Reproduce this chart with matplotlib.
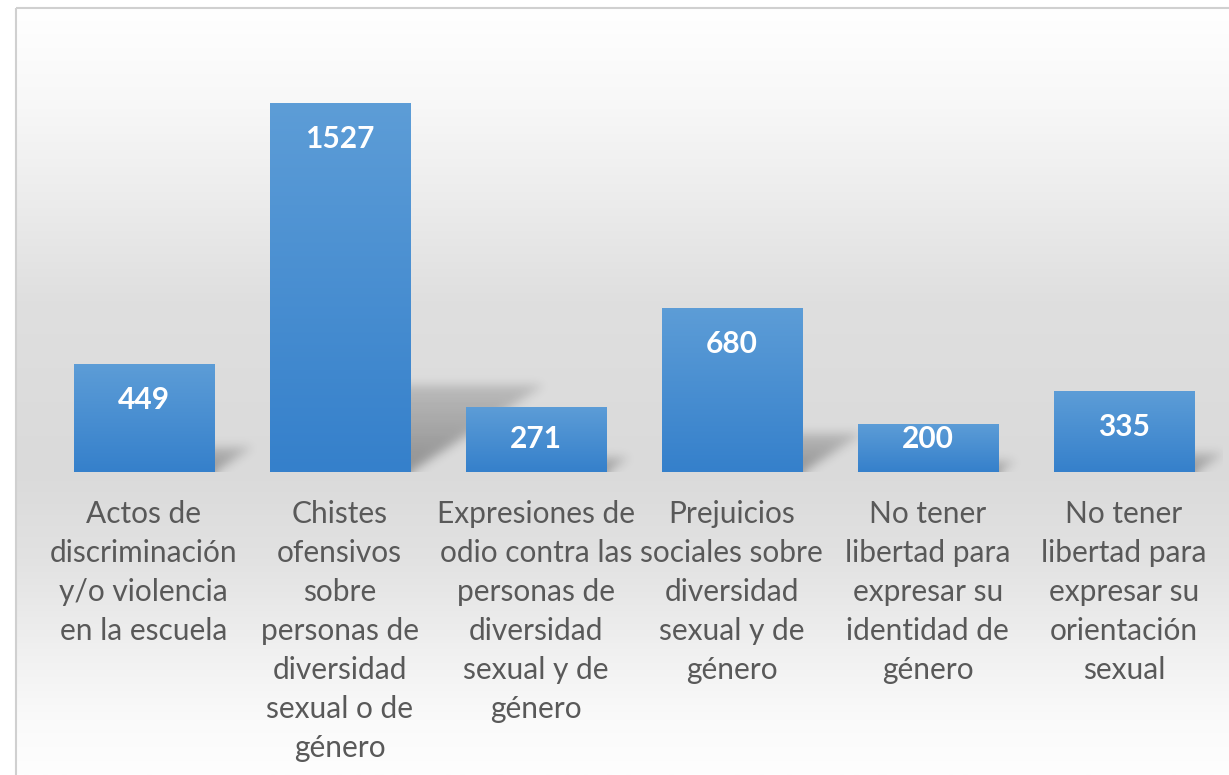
import numpy as np
import matplotlib
matplotlib.use("Agg")
import matplotlib.pyplot as plt
from matplotlib.path import Path

# ---------------- data ----------------
categories = [
    "Actos de\ndiscriminación\ny/o violencia\nen la escuela",
    "Chistes\nofensivos\nsobre\npersonas de\ndiversidad\nsexual o de\ngénero",
    "Expresiones de\nodio contra las\npersonas de\ndiversidad\nsexual y de\ngénero",
    "Prejuicios\nsociales sobre\ndiversidad\nsexual y de\ngénero",
    "No tener\nlibertad para\nexpresar su\nidentidad de\ngénero",
    "No tener\nlibertad para\nexpresar su\norientación\nsexual",
]
values = [449, 1527, 271, 680, 200, 335]

# ---------------- figure ----------------
W, H = 1229, 775
DPI = 100
fig = plt.figure(figsize=(W / DPI, H / DPI), dpi=DPI)
fig.patch.set_facecolor("white")

# background (chart area gradient + border)
bg = fig.add_axes([0, 0, 1, 1], zorder=0)
bg.set_xlim(0, W)
bg.set_ylim(H, 0)
bg.axis("off")
stops_y = [7, 100, 200, 300, 470, 560, 650, 720, 775]
stops_v = [255, 248, 236, 223, 218, 226, 240, 250, 254]
yy = np.linspace(7, H, 500)
col = np.interp(yy, stops_y, stops_v) / 255.0
grad = np.dstack([col[:, None]] * 3)
bg.imshow(grad, extent=(15, W, H, 7), aspect="auto", interpolation="bilinear")
bg.plot([15.5, 15.5], [H, 7.5], color="#d0d0d0", lw=1.5, solid_capstyle="butt")
bg.plot([15.5, W], [7.5, 7.5], color="#d0d0d0", lw=1.5, solid_capstyle="butt")
bg.set_xlim(0, W)
bg.set_ylim(H, 0)

# main axes
left_px, right_px, base_px, top_px = 45.5, 1222.0, 472.0, 60.0
ax = fig.add_axes([left_px / W, (H - base_px) / H,
                   (right_px - left_px) / W, (base_px - top_px) / H], zorder=1)
ax.patch.set_alpha(0)
ax.axis("off")
ymax = 1705.0
ax.set_xlim(-0.5, len(values) - 0.5)
ax.set_ylim(0, ymax)
bw = 0.714
x = np.arange(len(values))

# ---- shadows (blurred, skewed) ----
trans = ax.transData
bb = ax.bbox
pad = 25
x0, y0, x1, y1 = bb.x0, bb.y0 - pad, bb.x1, bb.y1
nx, ny = int(round(x1 - x0)), int(round(y1 - y0))
xs = x0 + np.arange(nx) + 0.5
ys = y0 + np.arange(ny) + 0.5
XX, YY = np.meshgrid(xs, ys)
pts = np.column_stack([XX.ravel(), YY.ravel()])
alpha = np.zeros(nx * ny)
for i, v in enumerate(values):
    (bx0, by0), (bx1, by1) = trans.transform([(i - bw / 2, 0), (i + bw / 2, v)])
    h = by1 - by0
    dx, dy = 0.36 * h, 0.235 * h
    verts = [(bx0, by0 - 12), (bx1, by0 - 12), (bx1, by0),
             (bx1 + dx, by0 + dy), (bx0 + dx, by0 + dy)]
    m = Path(verts).contains_points(pts)
    t = np.clip((pts[:, 1] - by0) / max(dy, 1), 0, 1)
    a = 0.34 * (1 - 0.55 * t)
    alpha = np.maximum(alpha, np.where(m, a, 0))
alpha = alpha.reshape(ny, nx)
sig = 5.0
kx = np.arange(-16, 17)
k = np.exp(-0.5 * (kx / sig) ** 2)
k /= k.sum()
alpha = np.apply_along_axis(lambda r: np.convolve(r, k, mode="same"), 1, alpha)
alpha = np.apply_along_axis(lambda c: np.convolve(c, k, mode="same"), 0, alpha)
rgba = np.zeros((ny, nx, 4))
rgba[..., 3] = alpha
# data extent of the grid
(dx0, dy0), (dx1, dy1) = trans.inverted().transform([(x0, y0), (x1, y1)])
ax.imshow(rgba, extent=(dx0, dx1, dy0, dy1), origin="lower", aspect="auto",
          zorder=1, interpolation="bilinear")
ax.set_xlim(-0.5, len(values) - 0.5)
ax.set_ylim(0, ymax)

# ---- bars with vertical gradient ----
bars = ax.bar(x, values, width=bw, color="none", edgecolor="none", zorder=2)
top_c = np.array([93, 157, 215]) / 255.0
bot_c = np.array([53, 128, 203]) / 255.0
tt = np.linspace(0, 1, 256)[:, None]  # 0 bottom -> 1 top
bar_grad = (bot_c[None, :] * (1 - tt) + top_c[None, :] * tt)[:, None, :]
for b in bars:
    bx, by, bwid, bh = b.get_x(), b.get_y(), b.get_width(), b.get_height()
    im = ax.imshow(bar_grad, extent=(bx, bx + bwid, by, by + bh), origin="lower",
                   aspect="auto", zorder=3, interpolation="bilinear")
    im.set_clip_path(b)
ax.set_xlim(-0.5, len(values) - 0.5)
ax.set_ylim(0, ymax)

# ---- value labels ----
upp = ymax / (base_px - top_px)  # data units per pixel
for i, v in enumerate(values):
    yl = max(v - 36 * upp, 33 * upp)
    ax.text(i, yl, f"{v}", ha="center", va="center", color="white",
            fontsize=21.5, fontweight="bold", family="Lato", zorder=4)

# ---- category labels (line by line) ----
first_base_px = 51
step_px = 39
for i, cat in enumerate(categories):
    for j, line in enumerate(cat.split("\n")):
        off = -(first_base_px + step_px * j) * 72.0 / DPI
        ax.annotate(line, xy=(i, 0), xytext=(0, off), textcoords="offset points",
                    ha="center", va="baseline", color="#595959",
                    fontsize=21.5, family="Lato", annotation_clip=False, zorder=4)

fig.savefig("out.png", dpi=DPI, facecolor="white")
